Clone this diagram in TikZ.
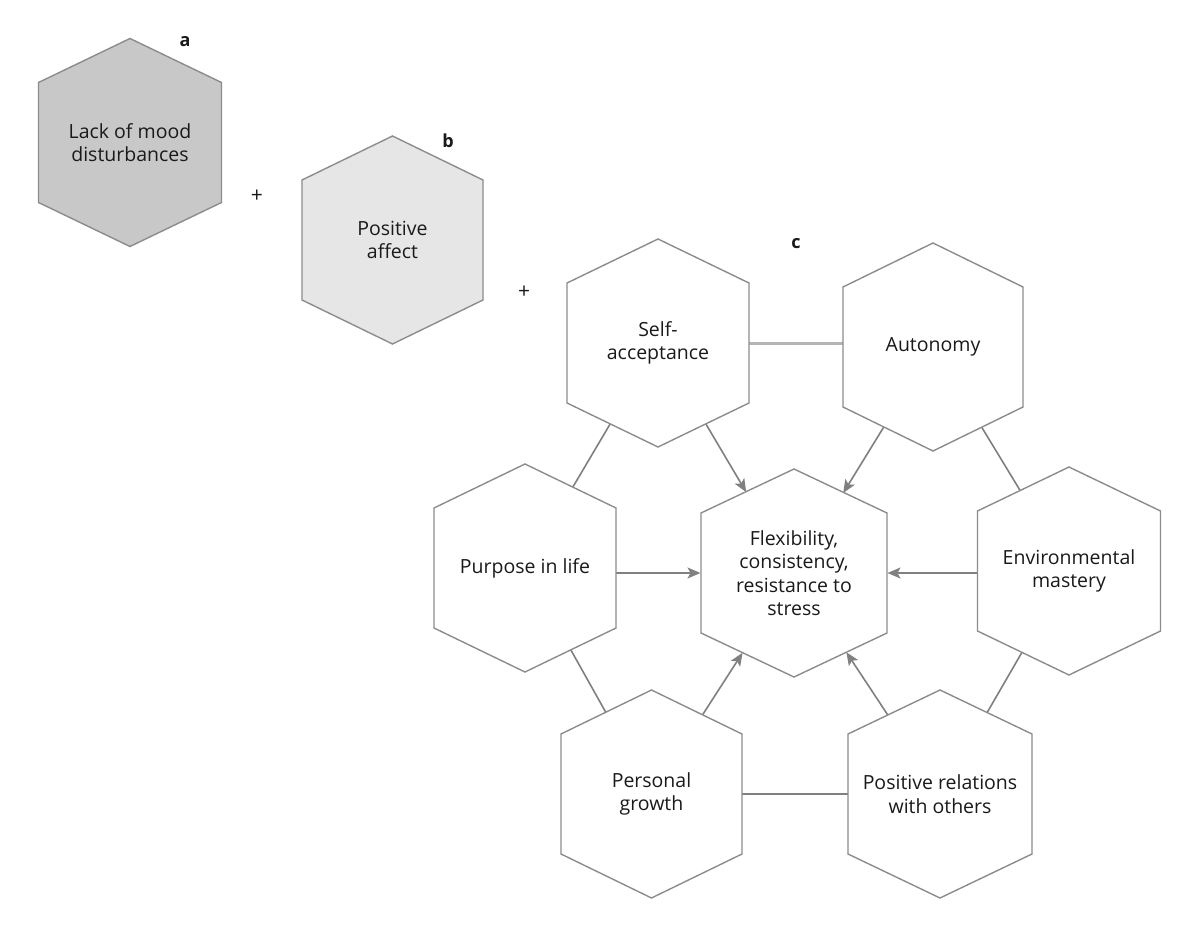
\documentclass[tikz,border=0pt]{standalone}
\usepackage{fontspec}
\setmainfont{Open Sans}
\usetikzlibrary{arrows.meta,calc}
\pgfdeclarelayer{background}
\pgfsetlayers{background,main}
\definecolor{edgegray}{HTML}{8C8C8C}
\definecolor{linkgray}{HTML}{808080}
\definecolor{lightlink}{HTML}{B4B4B4}
\definecolor{fillA}{HTML}{C8C8C8}
\definecolor{fillB}{HTML}{E6E6E6}
\definecolor{txt}{HTML}{1A1A1A}
\tikzset{
  hexborder/.style={draw=edgegray, line width=1.4pt, line join=miter},
  hextext/.style={align=center, font=\fontsize{19.5}{23.5}\selectfont, text=txt, inner sep=0pt},
  link/.style={draw=linkgray, line width=1.6pt},
  boldlink/.style={draw=lightlink, line width=3pt},
  arrowlink/.style={link, -{Stealth[length=13pt,width=11pt,inset=3pt]}},
  tag/.style={font=\fontsize{18}{20}\selectfont\bfseries, text=txt},
  plus/.style={font=\fontsize{21}{22}\selectfont, text=txt},
}
\newcommand\hexagon[6]{%
  \filldraw[hexborder, fill=#5] (#2,#3) ++(0,-104) -- ++(#4,44) -- ++(0,120) -- ++(-#4,44) -- ++(-#4,-44) -- ++(0,-120) -- cycle;
  \node[hextext] (#1) at (#2,#3) {#6};
}
\begin{document}
\begin{tikzpicture}[x=1pt, y=-1pt]
\useasboundingbox (0,0) rectangle (1200,928);
% panel a and b
\hexagon{ha}{130}{142.5}{91.5}{fillA}{Lack of mood\\disturbances}
\hexagon{hb}{392.5}{240}{90.5}{fillB}{Positive\\affect}
% panel c
\hexagon{sa}{658}{343}{91}{white}{Self-\\acceptance}
\hexagon{au}{933}{347}{90}{white}{Autonomy}
\hexagon{pl}{525}{568}{91}{white}{Purpose in life}
\hexagon{fl}{794}{573}{93}{white}{Flexibility,\\consistency,\\resistance to\\stress}
\hexagon{em}{1069}{571}{91.5}{white}{Environmental\\mastery}
\hexagon{pg}{651.5}{794}{90.5}{white}{Personal\\growth}
\hexagon{pr}{940}{794}{92}{white}{Positive relations\\with others}
% tags
\node[tag] (ta) at (185,42) {a};
\node[tag] (tb) at (448,141) {b};
\node[tag] (tc) at (796,244) {c};
\node[plus] (p1) at (257,196) {+};
\node[plus] (p2) at (524,292) {+};
% connectors
\begin{pgfonlayer}{background}
  \fill[white] (0,0) rectangle (1200,928);
  \draw[boldlink] (sa.center) -- (sa.center -| au.center);
  \draw[link] (sa.center) -- (pl.center);
  \draw[link] (au.center) -- (em.center);
  \draw[link] (pl.center) -- (pg.center);
  \draw[link] (em.center) -- (pr.center);
  \draw[link] (pg.center) -- (pr.center);
  \draw[arrowlink, shorten >=94pt] (sa.center) -- (fl.center);
  \draw[arrowlink, shorten >=94pt] (au.center) -- (fl.center);
  \draw[arrowlink, shorten >=95pt] (pg.center) -- (fl.center);
  \draw[arrowlink, shorten >=95pt] (pr.center) -- (fl.center);
  \draw[arrowlink, shorten >=93.5pt] (pl.center |- fl.center) -- (fl.center);
  \draw[arrowlink, shorten >=93.5pt] (em.center |- fl.center) -- (fl.center);
\end{pgfonlayer}
\end{tikzpicture}
\end{document}
